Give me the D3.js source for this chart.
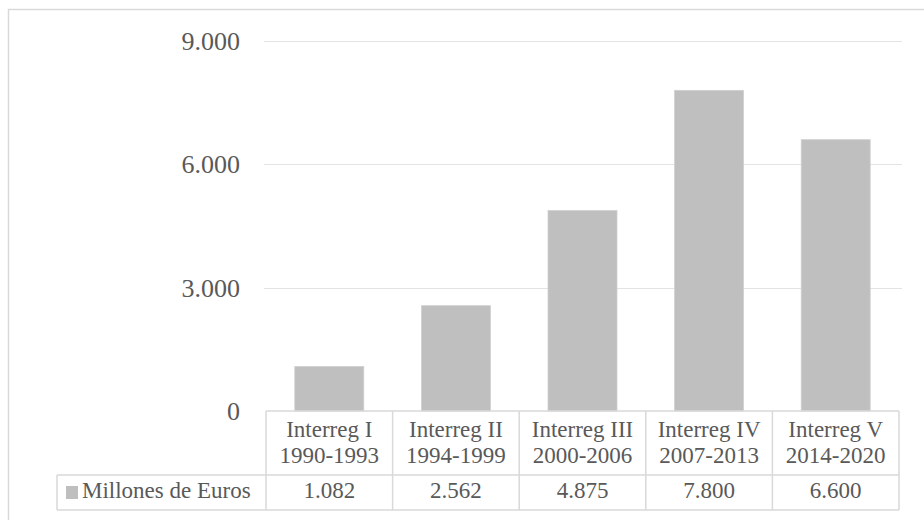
<!DOCTYPE html>
<html>
<head>
<meta charset="utf-8">
<script src="https://cdn.jsdelivr.net/npm/d3@7"></script>
<style>
  html, body { margin: 0; padding: 0; background: #fff; }
  svg { display: block; }
</style>
</head>
<body>
<svg id="chart" width="924" height="520" font-family="'Liberation Serif', 'DejaVu Serif', serif"></svg>
<script>
// ---- data ----
const categoryNames = ["Interreg I", "Interreg II", "Interreg III", "Interreg IV", "Interreg V"];
const categoryPeriods = ["1990-1993", "1994-1999", "2000-2006", "2007-2013", "2014-2020"];
const values = [1082, 2562, 4875, 7800, 6600];
const valueLabels = ["1.082", "2.562", "4.875", "7.800", "6.600"];
const yTicks = [0, 3000, 6000, 9000];
const yTickLabels = ["0", "3.000", "6.000", "9.000"];
const seriesName = "Millones de Euros";

// ---- layout ----
const svg = d3.select("#chart");
const plotLeft = 266, plotRight = 899, plotTop = 41, plotBottom = 411;
const headerBottom = 475, tableBottom = 510, legendLeft = 57;
const barColor = "#bfbfbf", gridColor = "#e3e3e3", tableColor = "#d9d9d9", textColor = "#595959";

// outer chart border
svg.append("rect")
  .attr("x", 8.5).attr("y", 9.5).attr("width", 930).attr("height", 530)
  .attr("fill", "none").attr("stroke", "#d9d9d9").attr("stroke-width", 1.5);

const x = d3.scaleBand()
  .domain(categoryNames)
  .range([plotLeft, plotRight])
  .paddingInner(0.455)
  .paddingOuter(0.2275);

const y = d3.scaleLinear().domain([0, 9000]).range([plotBottom, plotTop]);

// gridlines
svg.append("g").selectAll("line")
  .data(yTicks.filter(t => t > 0))
  .join("line")
  .attr("x1", plotLeft - 2).attr("x2", plotRight + 3)
  .attr("y1", d => Math.round(y(d)) + 0.5).attr("y2", d => Math.round(y(d)) + 0.5)
  .attr("stroke", gridColor).attr("stroke-width", 1.2);

// y tick labels
svg.append("g").selectAll("text")
  .data(yTicks)
  .join("text")
  .attr("x", 240)
  .attr("y", d => y(d) + 9)
  .attr("text-anchor", "end")
  .attr("font-size", 26)
  .attr("fill", textColor)
  .text((d, i) => yTickLabels[i]);

// bars
svg.append("g").selectAll("rect")
  .data(values)
  .join("rect")
  .attr("x", (d, i) => x(categoryNames[i]))
  .attr("width", x.bandwidth())
  .attr("y", d => y(d))
  .attr("height", d => y(0) - y(d))
  .attr("fill", barColor)
  .attr("stroke", "#d0d0d0")
  .attr("stroke-width", 0.8);

// data table
const step = x.step();
const colEdges = d3.range(categoryNames.length + 1).map(i => plotLeft + i * step);
const tbl = svg.append("g").attr("stroke", tableColor).attr("stroke-width", 1.5).attr("fill", "none");
tbl.append("line").attr("x1", plotLeft).attr("x2", plotRight).attr("y1", plotBottom).attr("y2", plotBottom);
tbl.append("line").attr("x1", legendLeft).attr("x2", plotRight).attr("y1", headerBottom).attr("y2", headerBottom);
tbl.append("line").attr("x1", legendLeft).attr("x2", plotRight).attr("y1", tableBottom).attr("y2", tableBottom);
tbl.selectAll(".v").data(colEdges).join("line")
  .attr("x1", d => d).attr("x2", d => d)
  .attr("y1", plotBottom).attr("y2", tableBottom);
tbl.append("line").attr("x1", legendLeft).attr("x2", legendLeft).attr("y1", headerBottom).attr("y2", tableBottom);

// header text
const hdr = svg.append("g").attr("text-anchor", "middle").attr("font-size", 23).attr("fill", textColor);
hdr.selectAll(".n").data(categoryNames).join("text")
  .attr("x", d => x(d) + x.bandwidth() / 2)
  .attr("y", 437)
  .text(d => d);
hdr.selectAll(".p").data(categoryPeriods).join("text")
  .attr("x", (d, i) => x(categoryNames[i]) + x.bandwidth() / 2)
  .attr("y", 463)
  .text(d => d);

// value row
svg.append("g").attr("text-anchor", "middle").attr("font-size", 23).attr("fill", textColor)
  .selectAll("text").data(valueLabels).join("text")
  .attr("x", (d, i) => x(categoryNames[i]) + x.bandwidth() / 2)
  .attr("y", 498)
  .text(d => d);

// legend key
svg.append("rect").attr("x", 66).attr("y", 486).attr("width", 12).attr("height", 13).attr("fill", barColor);
svg.append("text").attr("x", 82).attr("y", 498).attr("font-size", 23).attr("fill", textColor).text(seriesName);
</script>
</body>
</html>
